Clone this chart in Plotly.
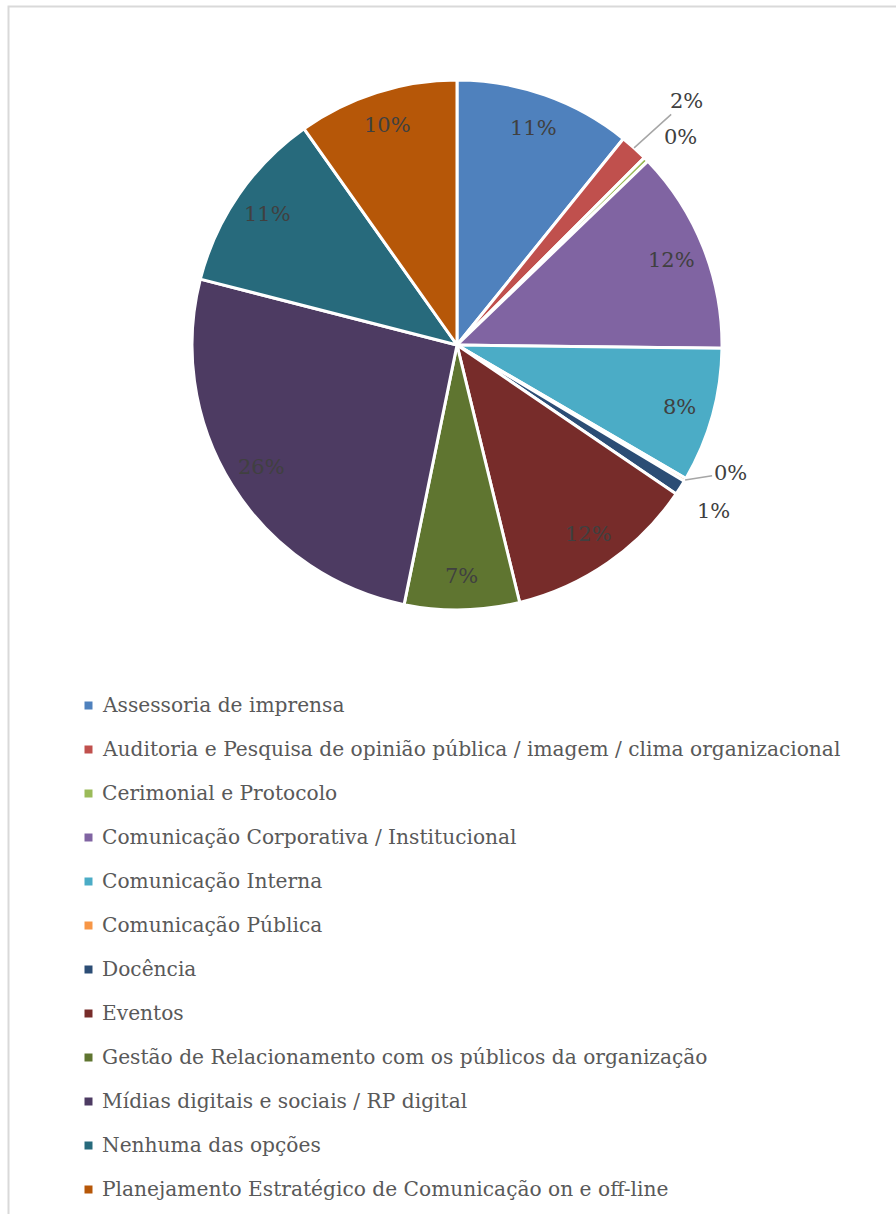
import math
import plotly.graph_objects as go

# Áreas de atuação e respectivas participações (%)
categorias = [
    "Assessoria de imprensa",
    "Auditoria e Pesquisa de opinião pública / imagem / clima organizacional",
    "Cerimonial e Protocolo",
    "Comunicação Corporativa / Institucional",
    "Comunicação Interna",
    "Comunicação Pública",
    "Docência",
    "Eventos",
    "Gestão de Relacionamento com os públicos da organização",
    "Mídias digitais e sociais / RP digital",
    "Nenhuma das opções",
    "Planejamento Estratégico de Comunicação on e off-line",
]
valores = [10.8, 1.7, 0.3, 12.4, 8.2, 0.2, 0.9, 11.7, 7.0, 25.8, 11.2, 9.8]
cores = [
    "#4F81BD", "#C0504D", "#9BBB59", "#8064A2", "#4BACC6", "#F79646",
    "#2C4D75", "#772C2A", "#5F7530", "#4D3B62", "#276A7C", "#B65708",
]

W, H = 896, 1214
CX, CY, R = 457, 345, 265          # pie centre and radius, pixels
FONT = "DejaVu Serif"
LABEL_COLOR = "#404040"
LEGEND_COLOR = "#595959"

fig = go.Figure(go.Pie(
    labels=categorias,
    values=valores,
    sort=False,
    direction="clockwise",
    rotation=0,
    marker=dict(colors=cores, line=dict(color="white", width=3)),
    textinfo="none",
    hoverinfo="label+percent",
    showlegend=False,
    domain=dict(x=[(CX - R) / W, (CX + R) / W],
                y=[1 - (CY + R) / H, 1 - (CY - R) / H]),
))

# Percentage labels placed along each slice's mid-angle
total = sum(valores)
# offsets (px) for the small slices whose labels sit outside the pie
externos = {1: (52, -47, True), 2: (34, -22, False), 5: (45, -7, True), 6: (33, 23, False)}
acum = 0.0
for i, v in enumerate(valores):
    frac = v / total
    mid = (acum + frac / 2) * 2 * math.pi
    acum += frac
    texto = f"{round(frac * 100):.0f}%"
    if i in externos:
        ax, ay, seta = externos[i]
        px = CX + R * math.sin(mid)
        py = CY - R * math.cos(mid)
        fig.add_annotation(
            x=px / W, y=1 - py / H, xref="paper", yref="paper",
            text=texto, showarrow=True, ax=ax, ay=ay, arrowhead=0,
            arrowwidth=1.5, standoff=0,
            arrowcolor="#A6A6A6" if seta else "rgba(0,0,0,0)",
            font=dict(family=FONT, size=21, color=LABEL_COLOR),
        )
    else:
        rr = 0.87 * R
        px = CX + rr * math.sin(mid)
        py = CY - rr * math.cos(mid)
        fig.add_annotation(
            x=px / W, y=1 - py / H, xref="paper", yref="paper",
            xanchor="center", yanchor="middle",
            text=texto, showarrow=False,
            font=dict(family=FONT, size=21, color=LABEL_COLOR),
        )

# Legend below the pie
LEG_X, LEG_Y0, LEG_DY = 100, 705, 44
for i, (nome, cor) in enumerate(zip(categorias, cores)):
    y = LEG_Y0 + i * LEG_DY
    fig.add_shape(
        type="rect", xref="paper", yref="paper",
        x0=84.5 / W, x1=92.5 / W, y0=1 - (y + 4.5) / H, y1=1 - (y - 3.5) / H,
        fillcolor=cor, line=dict(width=0),
    )
    fig.add_annotation(
        x=LEG_X / W, y=1 - y / H, xref="paper", yref="paper",
        text=nome, showarrow=False, xanchor="left", yanchor="middle",
        font=dict(family=FONT, size=20.2, color=LEGEND_COLOR),
    )

# Chart area border
fig.add_shape(
    type="rect", xref="paper", yref="paper",
    x0=8.5 / W, x1=1.02, y0=-0.02, y1=1 - 6.5 / H,
    line=dict(color="#D9D9D9", width=2), fillcolor="rgba(0,0,0,0)",
)

fig.update_layout(
    width=W, height=H,
    margin=dict(l=0, r=0, t=0, b=0),
    paper_bgcolor="white", plot_bgcolor="white",
)

fig.write_html("out.html")
